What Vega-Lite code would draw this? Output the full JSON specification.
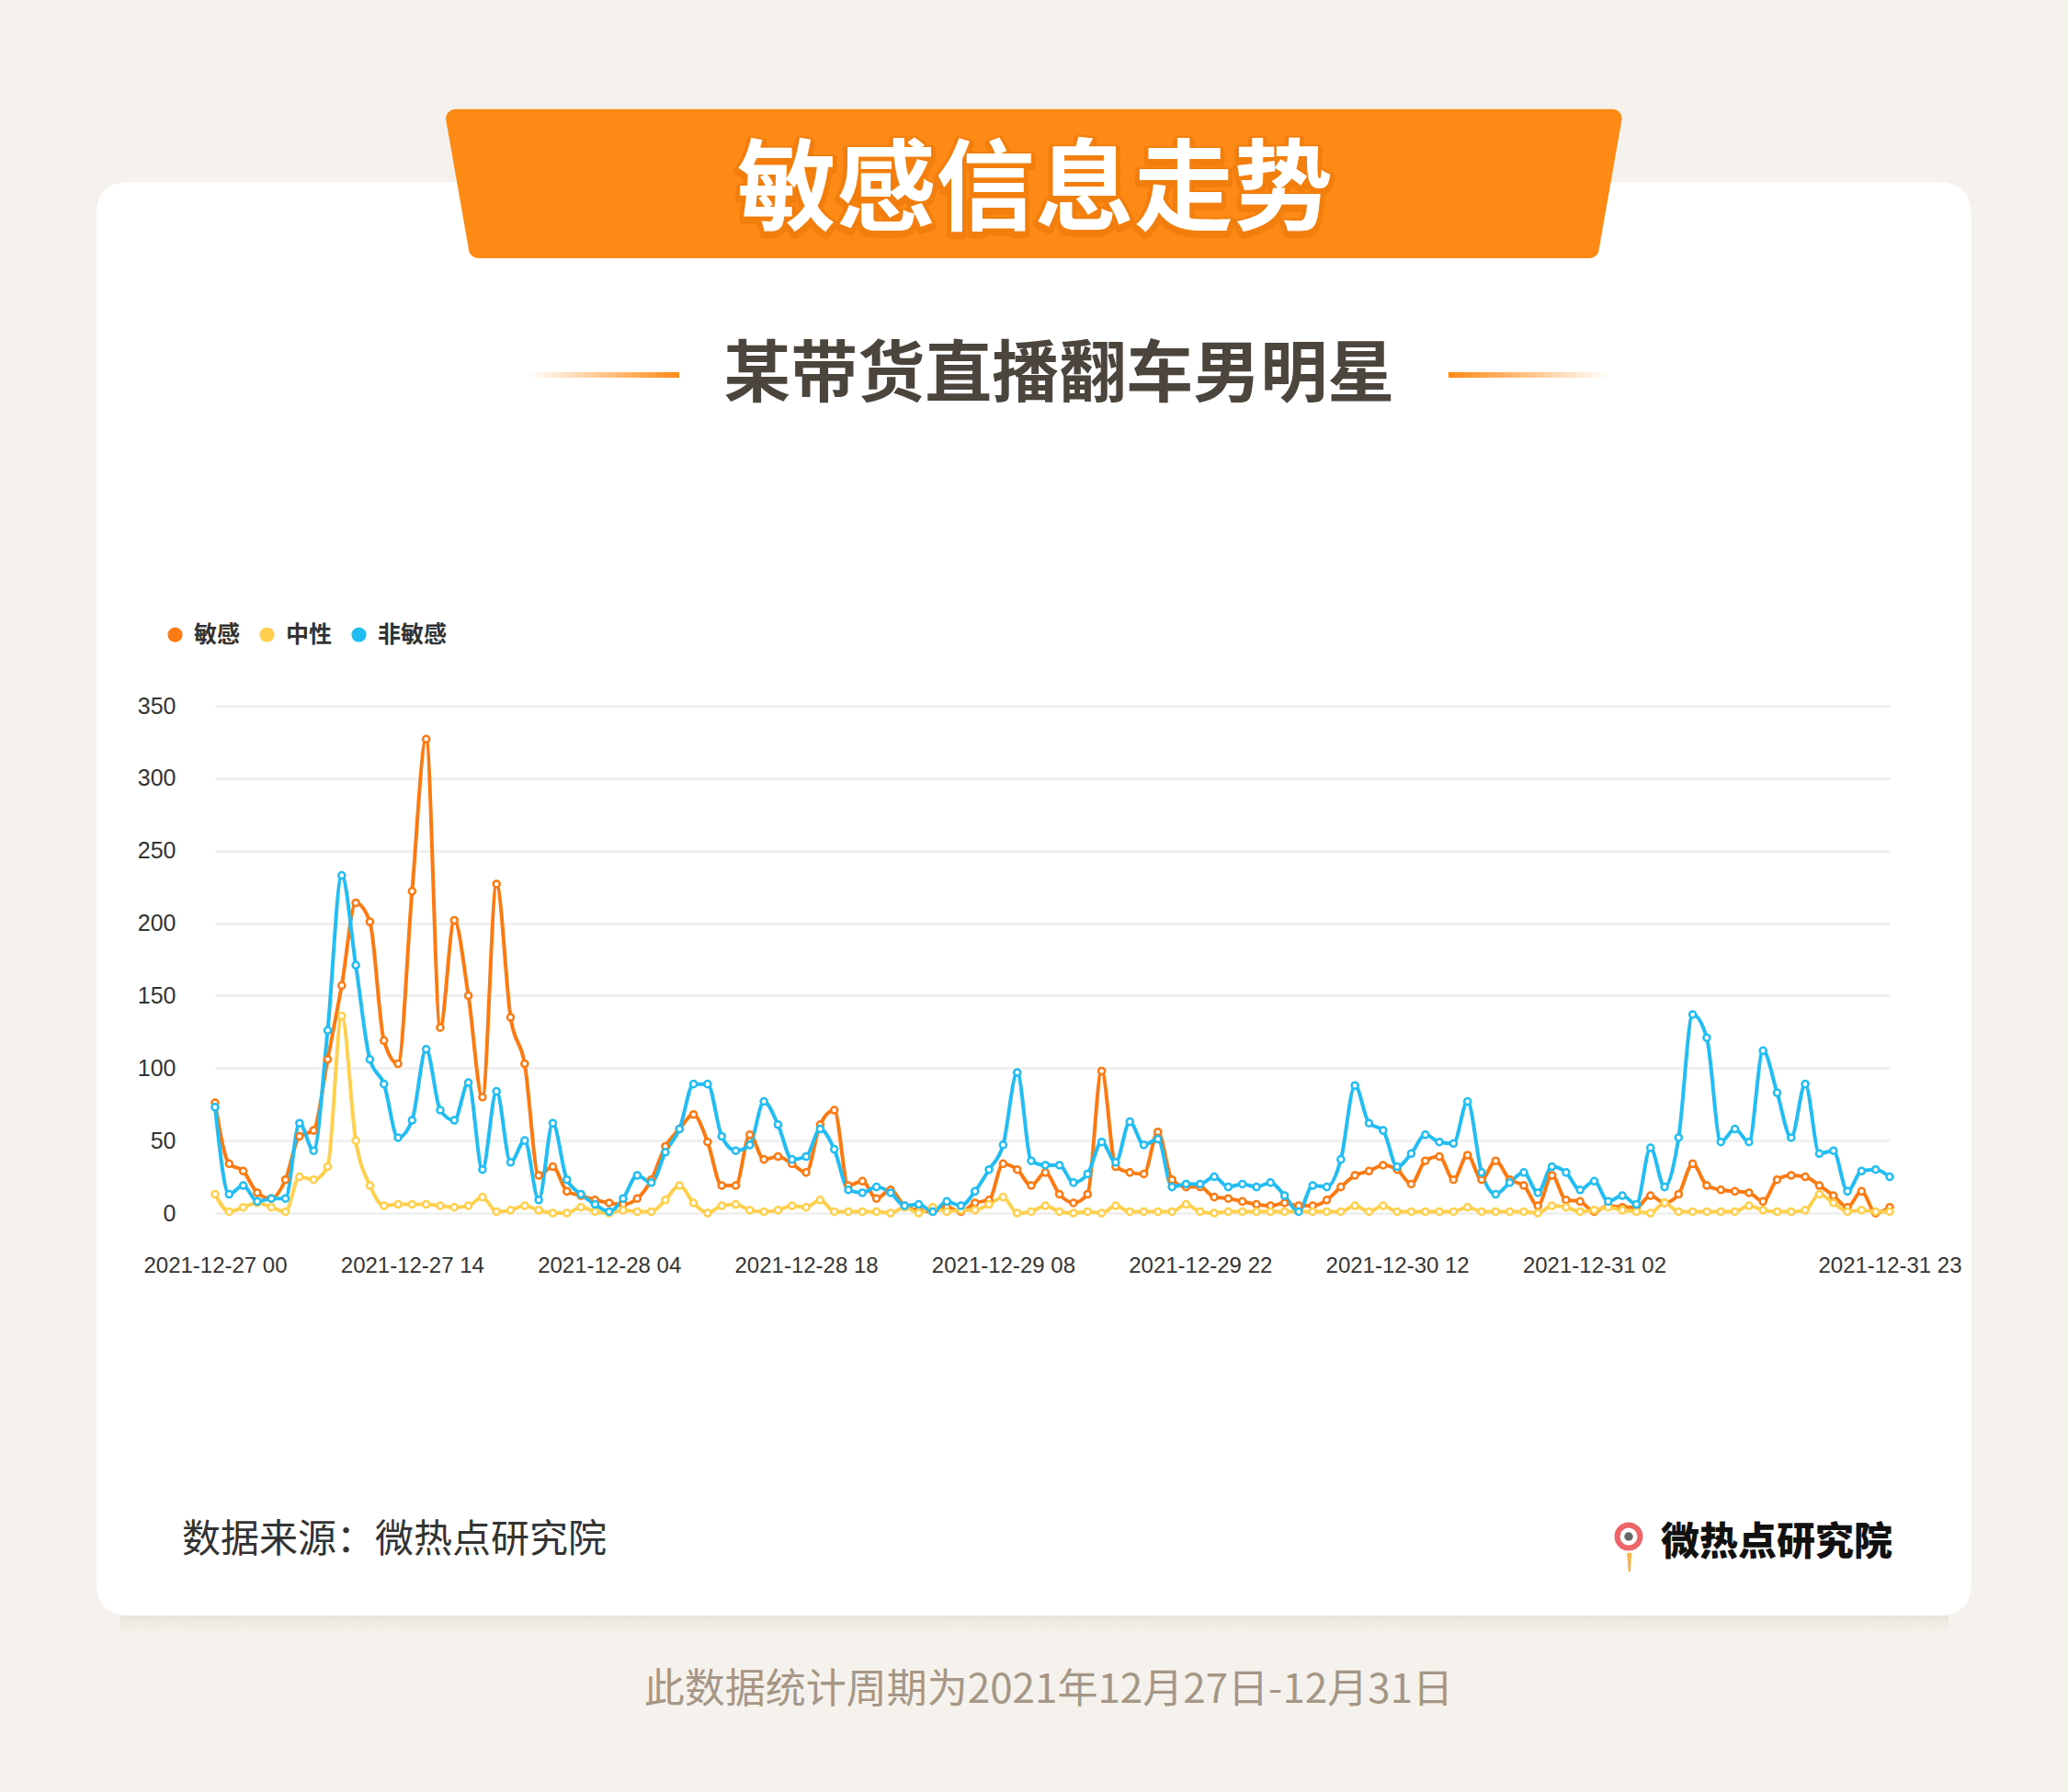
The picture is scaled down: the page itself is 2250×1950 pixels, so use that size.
{
  "$schema": "https://vega.github.io/schema/vega-lite/v6.json",
  "width": 1822,
  "height": 552,
  "autosize": {"type": "none"},
  "padding": {"left": 234, "top": 768, "right": 194, "bottom": 630},
  "background": "#ffffff",
  "config": {"view": {"stroke": null}, "font": "Noto Sans CJK SC"},
  "datasets": {
    "hourly": [
      {"time": "2021-12-27T00:00", "敏感": 76, "中性": 13, "非敏感": 73},
      {"time": "2021-12-27T01:00", "敏感": 34, "中性": 1, "非敏感": 13},
      {"time": "2021-12-27T02:00", "敏感": 29, "中性": 4, "非敏感": 19},
      {"time": "2021-12-27T03:00", "敏感": 14, "中性": 7, "非敏感": 8},
      {"time": "2021-12-27T04:00", "敏感": 10, "中性": 4, "非敏感": 10},
      {"time": "2021-12-27T05:00", "敏感": 23, "中性": 1, "非敏感": 10},
      {"time": "2021-12-27T06:00", "敏感": 53, "中性": 25, "非敏感": 62},
      {"time": "2021-12-27T07:00", "敏感": 57, "中性": 23, "非敏感": 43},
      {"time": "2021-12-27T08:00", "敏感": 106, "中性": 32, "非敏感": 126},
      {"time": "2021-12-27T09:00", "敏感": 157, "中性": 136, "非敏感": 233},
      {"time": "2021-12-27T10:00", "敏感": 214, "中性": 50, "非敏感": 171},
      {"time": "2021-12-27T11:00", "敏感": 201, "中性": 19, "非敏感": 106},
      {"time": "2021-12-27T12:00", "敏感": 119, "中性": 5, "非敏感": 89},
      {"time": "2021-12-27T13:00", "敏感": 103, "中性": 6, "非敏感": 52},
      {"time": "2021-12-27T14:00", "敏感": 222, "中性": 6, "非敏感": 64},
      {"time": "2021-12-27T15:00", "敏感": 327, "中性": 6, "非敏感": 113},
      {"time": "2021-12-27T16:00", "敏感": 128, "中性": 5, "非敏感": 71},
      {"time": "2021-12-27T17:00", "敏感": 202, "中性": 4, "非敏感": 64},
      {"time": "2021-12-27T18:00", "敏感": 150, "中性": 5, "非敏感": 90},
      {"time": "2021-12-27T19:00", "敏感": 80, "中性": 11, "非敏感": 30},
      {"time": "2021-12-27T20:00", "敏感": 227, "中性": 1, "非敏感": 84},
      {"time": "2021-12-27T21:00", "敏感": 135, "中性": 2, "非敏感": 35},
      {"time": "2021-12-27T22:00", "敏感": 103, "中性": 5, "非敏感": 50},
      {"time": "2021-12-27T23:00", "敏感": 26, "中性": 2, "非敏感": 9},
      {"time": "2021-12-28T00:00", "敏感": 32, "中性": 0, "非敏感": 62},
      {"time": "2021-12-28T01:00", "敏感": 15, "中性": 0, "非敏感": 23},
      {"time": "2021-12-28T02:00", "敏感": 12, "中性": 4, "非敏感": 13},
      {"time": "2021-12-28T03:00", "敏感": 9, "中性": 1, "非敏感": 6},
      {"time": "2021-12-28T04:00", "敏感": 7, "中性": 0, "非敏感": 1},
      {"time": "2021-12-28T05:00", "敏感": 6, "中性": 2, "非敏感": 10},
      {"time": "2021-12-28T06:00", "敏感": 10, "中性": 1, "非敏感": 26},
      {"time": "2021-12-28T07:00", "敏感": 23, "中性": 1, "非敏感": 21},
      {"time": "2021-12-28T08:00", "敏感": 46, "中性": 9, "非敏感": 42},
      {"time": "2021-12-28T09:00", "敏感": 58, "中性": 19, "非敏感": 58},
      {"time": "2021-12-28T10:00", "敏感": 68, "中性": 7, "非敏感": 89},
      {"time": "2021-12-28T11:00", "敏感": 49, "中性": 0, "非敏感": 89},
      {"time": "2021-12-28T12:00", "敏感": 19, "中性": 5, "非敏感": 53},
      {"time": "2021-12-28T13:00", "敏感": 19, "中性": 6, "非敏感": 43},
      {"time": "2021-12-28T14:00", "敏感": 54, "中性": 2, "非敏感": 47},
      {"time": "2021-12-28T15:00", "敏感": 37, "中性": 1, "非敏感": 77},
      {"time": "2021-12-28T16:00", "敏感": 39, "中性": 2, "非敏感": 61},
      {"time": "2021-12-28T17:00", "敏感": 34, "中性": 5, "非敏感": 37},
      {"time": "2021-12-28T18:00", "敏感": 28, "中性": 4, "非敏感": 39},
      {"time": "2021-12-28T19:00", "敏感": 61, "中性": 9, "非敏感": 58},
      {"time": "2021-12-28T20:00", "敏感": 71, "中性": 1, "非敏感": 44},
      {"time": "2021-12-28T21:00", "敏感": 19, "中性": 1, "非敏感": 16},
      {"time": "2021-12-28T22:00", "敏感": 22, "中性": 1, "非敏感": 14},
      {"time": "2021-12-28T23:00", "敏感": 10, "中性": 1, "非敏感": 18},
      {"time": "2021-12-29T00:00", "敏感": 16, "中性": 0, "非敏感": 14},
      {"time": "2021-12-29T01:00", "敏感": 5, "中性": 4, "非敏感": 5},
      {"time": "2021-12-29T02:00", "敏感": 2, "中性": 0, "非敏感": 6},
      {"time": "2021-12-29T03:00", "敏感": 1, "中性": 4, "非敏感": 1},
      {"time": "2021-12-29T04:00", "敏感": 4, "中性": 1, "非敏感": 8},
      {"time": "2021-12-29T05:00", "敏感": 1, "中性": 2, "非敏感": 5},
      {"time": "2021-12-29T06:00", "敏感": 7, "中性": 2, "非敏感": 15},
      {"time": "2021-12-29T07:00", "敏感": 9, "中性": 6, "非敏感": 30},
      {"time": "2021-12-29T08:00", "敏感": 34, "中性": 11, "非敏感": 47},
      {"time": "2021-12-29T09:00", "敏感": 30, "中性": 0, "非敏感": 97},
      {"time": "2021-12-29T10:00", "敏感": 19, "中性": 1, "非敏感": 36},
      {"time": "2021-12-29T11:00", "敏感": 28, "中性": 5, "非敏感": 33},
      {"time": "2021-12-29T12:00", "敏感": 13, "中性": 1, "非敏感": 33},
      {"time": "2021-12-29T13:00", "敏感": 7, "中性": 0, "非敏感": 21},
      {"time": "2021-12-29T14:00", "敏感": 13, "中性": 1, "非敏感": 27},
      {"time": "2021-12-29T15:00", "敏感": 98, "中性": 0, "非敏感": 49},
      {"time": "2021-12-29T16:00", "敏感": 32, "中性": 5, "非敏感": 35},
      {"time": "2021-12-29T17:00", "敏感": 28, "中性": 1, "非敏感": 63},
      {"time": "2021-12-29T18:00", "敏感": 27, "中性": 1, "非敏感": 47},
      {"time": "2021-12-29T19:00", "敏感": 56, "中性": 1, "非敏感": 51},
      {"time": "2021-12-29T20:00", "敏感": 23, "中性": 1, "非敏感": 18},
      {"time": "2021-12-29T21:00", "敏感": 18, "中性": 6, "非敏感": 20},
      {"time": "2021-12-29T22:00", "敏感": 18, "中性": 1, "非敏感": 20},
      {"time": "2021-12-29T23:00", "敏感": 11, "中性": 0, "非敏感": 25},
      {"time": "2021-12-30T00:00", "敏感": 10, "中性": 1, "非敏感": 18},
      {"time": "2021-12-30T01:00", "敏感": 8, "中性": 1, "非敏感": 20},
      {"time": "2021-12-30T02:00", "敏感": 6, "中性": 1, "非敏感": 18},
      {"time": "2021-12-30T03:00", "敏感": 5, "中性": 1, "非敏感": 21},
      {"time": "2021-12-30T04:00", "敏感": 7, "中性": 1, "非敏感": 12},
      {"time": "2021-12-30T05:00", "敏感": 5, "中性": 1, "非敏感": 1},
      {"time": "2021-12-30T06:00", "敏感": 5, "中性": 1, "非敏感": 19},
      {"time": "2021-12-30T07:00", "敏感": 9, "中性": 1, "非敏感": 18},
      {"time": "2021-12-30T08:00", "敏感": 18, "中性": 1, "非敏感": 37},
      {"time": "2021-12-30T09:00", "敏感": 26, "中性": 5, "非敏感": 88},
      {"time": "2021-12-30T10:00", "敏感": 29, "中性": 1, "非敏感": 62},
      {"time": "2021-12-30T11:00", "敏感": 33, "中性": 5, "非敏感": 57},
      {"time": "2021-12-30T12:00", "敏感": 30, "中性": 1, "非敏感": 32},
      {"time": "2021-12-30T13:00", "敏感": 20, "中性": 1, "非敏感": 41},
      {"time": "2021-12-30T14:00", "敏感": 36, "中性": 1, "非敏感": 54},
      {"time": "2021-12-30T15:00", "敏感": 39, "中性": 1, "非敏感": 49},
      {"time": "2021-12-30T16:00", "敏感": 23, "中性": 1, "非敏感": 48},
      {"time": "2021-12-30T17:00", "敏感": 40, "中性": 4, "非敏感": 77},
      {"time": "2021-12-30T18:00", "敏感": 23, "中性": 1, "非敏感": 28},
      {"time": "2021-12-30T19:00", "敏感": 36, "中性": 1, "非敏感": 13},
      {"time": "2021-12-30T20:00", "敏感": 23, "中性": 1, "非敏感": 21},
      {"time": "2021-12-30T21:00", "敏感": 19, "中性": 1, "非敏感": 28},
      {"time": "2021-12-30T22:00", "敏感": 5, "中性": 0, "非敏感": 14},
      {"time": "2021-12-30T23:00", "敏感": 26, "中性": 5, "非敏感": 32},
      {"time": "2021-12-31T00:00", "敏感": 9, "中性": 4, "非敏感": 28},
      {"time": "2021-12-31T01:00", "敏感": 8, "中性": 1, "非敏感": 16},
      {"time": "2021-12-31T02:00", "敏感": 1, "中性": 2, "非敏感": 22},
      {"time": "2021-12-31T03:00", "敏感": 5, "中性": 4, "非敏感": 8},
      {"time": "2021-12-31T04:00", "敏感": 4, "中性": 2, "非敏感": 12},
      {"time": "2021-12-31T05:00", "敏感": 4, "中性": 1, "非敏感": 6},
      {"time": "2021-12-31T06:00", "敏感": 12, "中性": 0, "非敏感": 45},
      {"time": "2021-12-31T07:00", "敏感": 7, "中性": 7, "非敏感": 18},
      {"time": "2021-12-31T08:00", "敏感": 13, "中性": 1, "非敏感": 52},
      {"time": "2021-12-31T09:00", "敏感": 34, "中性": 1, "非敏感": 137},
      {"time": "2021-12-31T10:00", "敏感": 19, "中性": 1, "非敏感": 121},
      {"time": "2021-12-31T11:00", "敏感": 16, "中性": 1, "非敏感": 49},
      {"time": "2021-12-31T12:00", "敏感": 15, "中性": 1, "非敏感": 58},
      {"time": "2021-12-31T13:00", "敏感": 14, "中性": 5, "非敏感": 49},
      {"time": "2021-12-31T14:00", "敏感": 8, "中性": 2, "非敏感": 112},
      {"time": "2021-12-31T15:00", "敏感": 23, "中性": 1, "非敏感": 83},
      {"time": "2021-12-31T16:00", "敏感": 26, "中性": 1, "非敏感": 52},
      {"time": "2021-12-31T17:00", "敏感": 25, "中性": 2, "非敏感": 89},
      {"time": "2021-12-31T18:00", "敏感": 19, "中性": 13, "非敏感": 41},
      {"time": "2021-12-31T19:00", "敏感": 12, "中性": 7, "非敏感": 43},
      {"time": "2021-12-31T20:00", "敏感": 4, "中性": 1, "非敏感": 15},
      {"time": "2021-12-31T21:00", "敏感": 15, "中性": 2, "非敏感": 29},
      {"time": "2021-12-31T22:00", "敏感": 0, "中性": 1, "非敏感": 30},
      {"time": "2021-12-31T23:00", "敏感": 4, "中性": 1, "非敏感": 25}
    ]
  },
  "layer": [
    {
      "data": {"values": [{}]},
      "mark": {"type": "point", "shape": "M-1.05,-0.92L1.05,-0.92L1.05,0.92L-1.05,0.92ZM-0.8747,-0.6907Q-0.9067,-0.6907,-0.9067,-0.6587L-0.9067,0.664Q-0.9067,0.696,-0.8747,0.696L0.8747,0.696Q0.9067,0.696,0.9067,0.664L0.9067,-0.6587Q0.9067,-0.6907,0.8747,-0.6907Z", "size": 5062500, "filled": true, "fill": "#f5f2ed", "strokeWidth": 0, "opacity": 1},
      "encoding": {
        "x": {"datum": {"year": 2021, "month": 12, "date": 29, "hours": 10, "minutes": 11}, "type": "temporal"},
        "y": {"datum": 218.76, "type": "quantitative"}
      }
    },
    {
      "data": {"values": [{}]},
      "mark": {"type": "rect", "fill": {"gradient": "linear", "x1": 0, "x2": 0, "y1": 0, "y2": 1, "stops": [{"offset": 0, "color": "#e8e2d7"}, {"offset": 1, "color": "rgba(245,242,237,0)"}]}},
      "encoding": {
        "x": {"datum": {"year": 2021, "month": 12, "date": 26, "hours": 17, "minutes": 13}, "type": "temporal"},
        "x2": {"datum": {"year": 2022, "month": 1, "date": 1, "hours": 3, "minutes": 11}},
        "y": {"datum": -277.7, "type": "quantitative"},
        "y2": {"datum": -295}
      }
    },
    {
      "data": {"values": [{}]},
      "mark": {"type": "point", "shape": "M-0.984,-0.111L0.984,-0.111L0.945,0.111L-0.945,0.111Z", "size": 1638400, "filled": true, "fill": "#fd8a14", "stroke": "#fd8a14", "strokeWidth": 20, "strokeJoin": "round", "opacity": 1},
      "encoding": {
        "x": {"datum": {"year": 2021, "month": 12, "date": 29, "hours": 10, "minutes": 11}, "type": "temporal"},
        "y": {"datum": 710.2, "type": "quantitative"}
      }
    },
    {
      "data": {"values": [{}]},
      "mark": {"type": "text", "text": "敏感信息走势", "fontSize": 108, "fontWeight": "bold", "fill": "#d96300", "stroke": "#e06a05", "strokeWidth": 10, "strokeJoin": "round", "opacity": 0.35, "align": "center", "baseline": "middle", "dy": 3},
      "encoding": {
        "x": {"datum": {"year": 2021, "month": 12, "date": 29, "hours": 10, "minutes": 16}, "type": "temporal"},
        "y": {"datum": 703.8, "type": "quantitative"}
      }
    },
    {
      "data": {"values": [{}]},
      "mark": {"type": "text", "text": "敏感信息走势", "fontSize": 108, "fontWeight": "bold", "fill": "#ffffff", "align": "center", "baseline": "middle"},
      "encoding": {
        "x": {"datum": {"year": 2021, "month": 12, "date": 29, "hours": 10, "minutes": 16}, "type": "temporal"},
        "y": {"datum": 703.8, "type": "quantitative"}
      }
    },
    {
      "data": {"values": [{}]},
      "mark": {"type": "text", "text": "某带货直播翻车男明星", "fontSize": 73, "fontWeight": "bold", "fill": "#4b453e", "align": "center", "baseline": "middle"},
      "encoding": {
        "x": {"datum": {"year": 2021, "month": 12, "date": 29, "hours": 11, "minutes": 58}, "type": "temporal"},
        "y": {"datum": 577.6, "type": "quantitative"}
      }
    },
    {
      "data": {"values": [{}]},
      "mark": {"type": "rect", "fill": {"gradient": "linear", "x1": 0, "x2": 1, "y1": 0, "y2": 0, "stops": [{"offset": 0, "color": "rgba(253,138,20,0)"}, {"offset": 1, "color": "#fd8a14"}]}},
      "encoding": {
        "x": {"datum": {"year": 2021, "month": 12, "date": 27, "hours": 22, "minutes": 12}, "type": "temporal"},
        "x2": {"datum": {"year": 2021, "month": 12, "date": 28, "hours": 8, "minutes": 59}},
        "y": {"datum": 580.2, "type": "quantitative"},
        "y2": {"datum": 576.4}
      }
    },
    {
      "data": {"values": [{}]},
      "mark": {"type": "rect", "fill": {"gradient": "linear", "x1": 0, "x2": 1, "y1": 0, "y2": 0, "stops": [{"offset": 0, "color": "#fd8a14"}, {"offset": 1, "color": "rgba(253,138,20,0)"}]}},
      "encoding": {
        "x": {"datum": {"year": 2021, "month": 12, "date": 30, "hours": 15, "minutes": 39}, "type": "temporal"},
        "x2": {"datum": {"year": 2021, "month": 12, "date": 31, "hours": 3, "minutes": 5}},
        "y": {"datum": 580.2, "type": "quantitative"},
        "y2": {"datum": 576.4}
      }
    },
    {
      "data": {"name": "hourly"},
      "transform": [{"fold": ["敏感", "中性", "非敏感"], "as": ["series", "value"]}],
      "mark": {"type": "line", "interpolate": "monotone", "strokeWidth": 4, "point": {"filled": false, "fill": "#ffffff", "size": 50, "strokeWidth": 2.5}},
      "encoding": {
        "x": {
          "field": "time", "type": "temporal",
          "scale": {"domain": [{"year": 2021, "month": 12, "date": 27, "hours": 0}, {"year": 2021, "month": 12, "date": 31, "hours": 23}]},
          "axis": {
            "title": null,
            "values": [
              {"year": 2021, "month": 12, "date": 27, "hours": 0},
              {"year": 2021, "month": 12, "date": 27, "hours": 14},
              {"year": 2021, "month": 12, "date": 28, "hours": 4},
              {"year": 2021, "month": 12, "date": 28, "hours": 18},
              {"year": 2021, "month": 12, "date": 29, "hours": 8},
              {"year": 2021, "month": 12, "date": 29, "hours": 22},
              {"year": 2021, "month": 12, "date": 30, "hours": 12},
              {"year": 2021, "month": 12, "date": 31, "hours": 2},
              {"year": 2021, "month": 12, "date": 31, "hours": 23}
            ],
            "format": "%Y-%m-%d %H",
            "labelFont": "Liberation Sans", "labelFontSize": 24, "labelColor": "#333333",
            "labelPadding": 45, "ticks": false, "domain": false, "grid": false,
            "labelOverlap": false, "labelFlush": false
          }
        },
        "y": {
          "field": "value", "type": "quantitative",
          "scale": {"domain": [0, 350]},
          "axis": {
            "title": null,
            "values": [0, 50, 100, 150, 200, 250, 300, 350],
            "labelFont": "Liberation Sans", "labelFontSize": 25, "labelColor": "#333333",
            "labelPadding": 43, "ticks": false, "domain": false,
            "grid": true, "gridColor": "#eeeeee", "gridWidth": 2.5
          }
        },
        "color": {
          "field": "series", "type": "nominal",
          "scale": {"domain": ["敏感", "中性", "非敏感"], "range": ["#fb7a12", "#ffd04d", "#22bdf2"]},
          "legend": {
            "title": null, "orient": "none", "legendX": -56, "legendY": -90,
            "direction": "horizontal", "symbolType": "circle", "symbolSize": 260,
            "symbolStrokeWidth": 0,
            "labelFont": "Noto Sans CJK SC", "labelFontSize": 25, "labelFontWeight": "bold",
            "labelColor": "#333333", "labelOffset": 8, "columnPadding": 16,
            "encode": {"symbols": {"update": {"fill": {"scale": "color", "field": "value"}, "strokeWidth": {"value": 0}}}}
          }
        }
      }
    },
    {
      "data": {"values": [{}]},
      "mark": {"type": "text", "text": "数据来源：微热点研究院", "fontSize": 42, "fill": "#333333", "align": "left", "baseline": "middle"},
      "encoding": {
        "x": {"datum": {"year": 2021, "month": 12, "date": 26, "hours": 21, "minutes": 39}, "type": "temporal"},
        "y": {"datum": -225.7, "type": "quantitative"}
      }
    },
    {
      "data": {"values": [{}]},
      "mark": {"type": "text", "text": "微热点研究院", "fontSize": 42, "fontWeight": 900, "fill": "#111111", "align": "right", "baseline": "middle"},
      "encoding": {
        "x": {"datum": {"year": 2021, "month": 12, "date": 31, "hours": 23, "minutes": 12}, "type": "temporal"},
        "y": {"datum": -227.6, "type": "quantitative"}
      }
    },
    {
      "data": {"values": [{}]},
      "mark": {"type": "point", "shape": "M-0.25,-1L0.25,-1L0.12,1L-0.12,1Z", "size": 420, "filled": true, "fill": "#f39800", "strokeWidth": 0},
      "encoding": {
        "x": {"datum": {"year": 2021, "month": 12, "date": 31, "hours": 4, "minutes": 30}, "type": "temporal"},
        "y": {"datum": -241, "type": "quantitative"}
      }
    },
    {
      "data": {"values": [{}]},
      "mark": {"type": "point", "shape": "circle", "size": 620, "filled": false, "fill": "#ffffff", "stroke": "#e8242b", "strokeWidth": 6},
      "encoding": {
        "x": {"datum": {"year": 2021, "month": 12, "date": 31, "hours": 4, "minutes": 27}, "type": "temporal"},
        "y": {"datum": -223.2, "type": "quantitative"}
      }
    },
    {
      "data": {"values": [{}]},
      "mark": {"type": "point", "shape": "circle", "size": 90, "filled": true, "fill": "#2a2a2a", "strokeWidth": 0},
      "encoding": {
        "x": {"datum": {"year": 2021, "month": 12, "date": 31, "hours": 4, "minutes": 27}, "type": "temporal"},
        "y": {"datum": -223.2, "type": "quantitative"}
      }
    },
    {
      "data": {"values": [{}]},
      "mark": {"type": "text", "text": "此数据统计周期为2021年12月27日-12月31日", "fontSize": 44, "fill": "#a69685", "align": "center", "baseline": "middle"},
      "encoding": {
        "x": {"datum": {"year": 2021, "month": 12, "date": 29, "hours": 11, "minutes": 14}, "type": "temporal"},
        "y": {"datum": -329.7, "type": "quantitative"}
      }
    }
  ]
}
